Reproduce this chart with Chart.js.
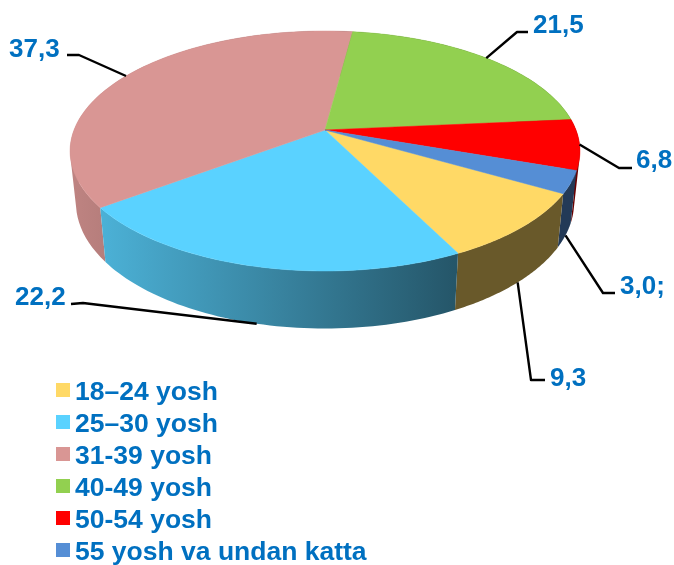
<!DOCTYPE html>
<html>
<head>
<meta charset="utf-8">
<script src="https://cdn.jsdelivr.net/npm/chart.js@4/dist/chart.umd.js"></script>
<style>
  html, body { margin: 0; padding: 0; background: #fff; }
  canvas { display: block; }
</style>
</head>
<body>
<canvas id="pieChart" width="674" height="565"></canvas>
<script>
// Data
const categories = ['18–24 yosh', '25–30 yosh', '31-39 yosh', '40-49 yosh', '50-54 yosh', '55 yosh va undan katta'];
const shares = [9.3, 22.2, 37.3, 21.5, 6.8, 3.0];
const shareLabels = ['9,3', '22,2', '37,3', '21,5', '6,8', '3,0;'];
const sliceColors = ['#FFD966', '#5AD2FF', '#D99694', '#92D050', '#FF0000', '#558ED5'];

// Perspective of the disc
const CX = 325, CY = 130, RX = 251, RY = 116.3, TILT = 0.175;
const WALL_SCALE_X = 0.977, WALL_SCALE_Y = 1.05, WALL_DROP = 50.5;
const TEXT_COLOR = '#0070C0';
const LABEL_FONT = 'bold 26px "Liberation Sans", Arial, sans-serif';
const LEGEND_FONT = 'bold 26.5px "Liberation Sans", Arial, sans-serif';

// Leader line elbow and label place, per slice. onWall: line starts at the bottom edge
const leaders = [
    { elbow: [531, 380], end: [545, 380], text: [550, 386], onWall: true },
    { elbow: [83, 303], end: [71, 304], text: [15, 305], onWall: true },
    { elbow: [79, 55], end: [67, 55], text: [9, 57], onWall: false },
    { elbow: [517, 32], end: [528, 32], text: [533, 33], onWall: false },
    { elbow: [619, 168], end: [632, 168], text: [636, 168], onWall: false },
    { elbow: [603, 293], end: [615, 293], text: [620, 294], onWall: true }
];

// Chart.js angle -> point on the top rim
function rimPoint(a) {
    const u = Math.cos(a), v = Math.sin(a);
    const d = 1 - TILT * v;
    return [RX * u / d, RY * v / d];
}
function topPoint(a) {
    const p = rimPoint(a);
    return [CX + p[0], CY + p[1]];
}
function wallPoint(a) {
    const p = rimPoint(a);
    return [CX + p[0] * WALL_SCALE_X, CY + p[1] * WALL_SCALE_Y + WALL_DROP];
}

function shade(hex, f) {
    const n = parseInt(hex.slice(1), 16);
    return 'rgb(' + Math.round((n >> 16) * f) + ',' + Math.round(((n >> 8) & 255) * f) + ',' + Math.round((n & 255) * f) + ')';
}

// adds a quad to the current path, always with the same winding
function addQuad(ctx, q) {
    let area = 0;
    q.forEach((p, k) => {
        const n = q[(k + 1) % 4];
        area += p[0] * n[1] - n[0] * p[1];
    });
    const pts = area < 0 ? q.slice().reverse() : q;
    ctx.moveTo(pts[0][0], pts[0][1]);
    for (let k = 1; k < 4; k++) ctx.lineTo(pts[k][0], pts[k][1]);
    ctx.closePath();
}

const pie3d = {
    id: 'pie3d',
    // the arcs keep their angles from the library, only the drawing is tilted
    beforeDatasetDraw(chart, args) {
        const ctx = chart.ctx;
        const arcs = args.meta.data;
        const order = arcs.map((arc, i) => i).sort((a, b) => {
            const ma = (arcs[a].startAngle + arcs[a].endAngle) / 2;
            const mb = (arcs[b].startAngle + arcs[b].endAngle) / 2;
            return Math.sin(ma) - Math.sin(mb);
        });

        // side walls, far ones first
        order.forEach(i => {
            const arc = arcs[i];
            const grad = ctx.createLinearGradient(70, 0, 455, 0);
            grad.addColorStop(0, shade(sliceColors[i], 0.88));
            grad.addColorStop(1, shade(sliceColors[i], 0.41));
            const steps = 60;
            const span = arc.endAngle - arc.startAngle;
            ctx.beginPath();
            for (let s = 0; s < steps; s++) {
                const a0 = arc.startAngle + span * s / steps;
                const a1 = arc.startAngle + span * (s + 1) / steps;
                addQuad(ctx, [topPoint(a0), topPoint(a1), wallPoint(a1), wallPoint(a0)]);
            }
            ctx.fillStyle = grad;
            ctx.fill('nonzero');
        });

        // top of the slices
        arcs.forEach((arc, i) => {
            ctx.beginPath();
            ctx.moveTo(CX, CY);
            const steps = 80;
            for (let s = 0; s <= steps; s++) {
                const p = topPoint(arc.startAngle + (arc.endAngle - arc.startAngle) * s / steps);
                ctx.lineTo(p[0], p[1]);
            }
            ctx.closePath();
            ctx.fillStyle = sliceColors[i];
            ctx.strokeStyle = sliceColors[i];
            ctx.lineWidth = 0.5;
            ctx.fill();
            ctx.stroke();
        });
        return false;
    },
    afterDraw(chart) {
        const ctx = chart.ctx;
        const arcs = chart.getDatasetMeta(0).data;

        // leader lines and value labels
        ctx.font = LABEL_FONT;
        ctx.textAlign = 'left';
        ctx.textBaseline = 'alphabetic';
        arcs.forEach((arc, i) => {
            const l = leaders[i];
            const mid = (arc.startAngle + arc.endAngle) / 2;
            const start = l.onWall ? wallPoint(mid) : topPoint(mid);
            ctx.beginPath();
            ctx.moveTo(start[0], start[1]);
            ctx.lineTo(l.elbow[0], l.elbow[1]);
            ctx.lineTo(l.end[0], l.end[1]);
            ctx.strokeStyle = '#000';
            ctx.lineWidth = 2.4;
            ctx.lineJoin = 'round';
            ctx.stroke();
            ctx.fillStyle = TEXT_COLOR;
            ctx.fillText(shareLabels[i], l.text[0], l.text[1]);
        });

        // legend
        ctx.font = LEGEND_FONT;
        categories.forEach((name, i) => {
            ctx.fillStyle = sliceColors[i];
            ctx.fillRect(56, 383 + i * 32, 14, 14);
            ctx.fillStyle = TEXT_COLOR;
            ctx.fillText(name, 75, 400 + i * 32);
        });
    }
};

const ctx = document.getElementById('pieChart').getContext('2d');
const pieChart = new Chart(ctx, {
    type: 'pie',
    data: {
        labels: categories,
        datasets: [{
            data: shares,
            backgroundColor: sliceColors,
            borderWidth: 0
        }]
    },
    options: {
        responsive: false,
        animation: false,
        rotation: 120,
        plugins: {
            legend: { display: false },
            tooltip: { enabled: false }
        }
    },
    plugins: [pie3d]
});
</script>
</body>
</html>
